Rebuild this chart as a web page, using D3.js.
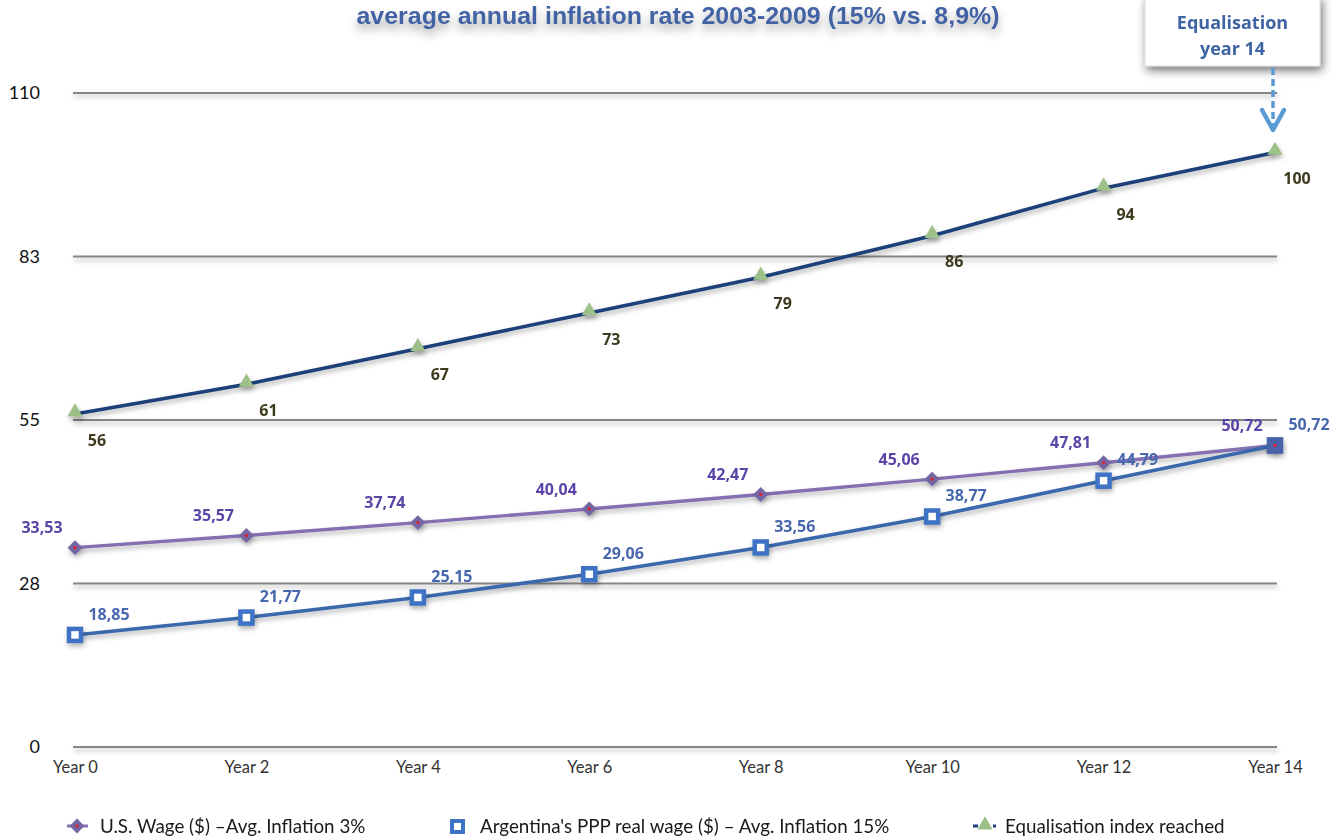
<!DOCTYPE html>
<html><head><meta charset="utf-8">
<script src="https://cdn.jsdelivr.net/npm/d3@7/dist/d3.min.js"></script>
<style>
html,body{margin:0;padding:0;background:#fff;}
svg{display:block;}
</style></head>
<body>
<script>
const years = [0,2,4,6,8,10,12,14];
const xLabels = ["Year 0","Year 2","Year 4","Year 6","Year 8","Year 10","Year 12","Year 14"];
const usWage = [33.53,35.57,37.74,40.04,42.47,45.06,47.81,50.72];
const argWage = [18.85,21.77,25.15,29.06,33.56,38.77,44.79,50.72];
const equalIndex = [56,61,67,73,79,86,94,100];
const yTicks = [0,27.5,55,82.5,110];
const yTickLabels = ["0","28","55","83","110"];
const seriesNames = ["U.S. Wage ($) \u2013Avg. Inflation 3%","Argentina's PPP real wage ($) \u2013 Avg. Inflation 15%","Equalisation index reached"];
const titleText = "average annual inflation rate 2003-2009 (15% vs. 8,9%)";
const calloutLines = ["Equalisation","year 14"];

const W=1339,H=840;
const svg=d3.select("body").append("svg").attr("width",W).attr("height",H);
const defs=svg.append("defs");
const f=defs.append("filter").attr("id","sh").attr("filterUnits","userSpaceOnUse").attr("x",0).attr("y",0).attr("width",W).attr("height",H);
f.append("feDropShadow").attr("dx",1).attr("dy",3).attr("stdDeviation",2.5).attr("flood-color","#000").attr("flood-opacity",0.3);
const fb=defs.append("filter").attr("id","boxsh").attr("x","-30%").attr("y","-30%").attr("width","160%").attr("height","180%");
fb.append("feDropShadow").attr("dx",2).attr("dy",4).attr("stdDeviation",5).attr("flood-color","#000").attr("flood-opacity",0.55);
const ft=defs.append("filter").attr("id","tsh").attr("x","-10%").attr("y","-50%").attr("width","120%").attr("height","300%");
ft.append("feDropShadow").attr("dx",0).attr("dy",6).attr("stdDeviation",5).attr("flood-color","#000").attr("flood-opacity",0.35);

const x=d3.scaleLinear().domain([0,14]).range([75,1275]);
const y=d3.scaleLinear().domain([0,110]).range([747,93]);

// title
svg.append("text").attr("x",678).attr("y",24).attr("text-anchor","middle")
  .attr("font-family","Liberation Sans, Arial, sans-serif").attr("font-weight","bold").attr("font-size",24)
  .attr("textLength",643).attr("lengthAdjust","spacingAndGlyphs")
  .attr("fill","#4262a3").attr("filter","url(#tsh)").text(titleText);

// gridlines
const grid=svg.append("g").attr("filter","url(#sh)");
grid.selectAll("line").data(yTicks).join("line")
  .attr("x1",73).attr("x2",1277).attr("y1",d=>y(d)).attr("y2",d=>y(d))
  .attr("stroke","#858585").attr("stroke-width",2.2);

// y axis
const yAxis=d3.axisLeft(y).tickValues(yTicks).tickFormat((d,i)=>yTickLabels[i]).tickSize(0).tickPadding(0);
const gy=svg.append("g").attr("transform","translate(40,0)").call(yAxis);
gy.select(".domain").remove();
gy.selectAll("text").attr("font-family","Lato, sans-serif").attr("font-size",18).attr("fill","#111").attr("dy","0.32em");

// x axis
const xAxis=d3.axisBottom(x).tickValues(years).tickFormat((d,i)=>xLabels[i]).tickSize(0).tickPadding(0);
const gx=svg.append("g").attr("transform","translate(0,761)").call(xAxis);
gx.select(".domain").remove();
gx.selectAll("text").attr("font-family","Lato, sans-serif").attr("font-size",16.5).attr("fill","#333").attr("dy","0.71em");

const line=d3.line().x((d,i)=>x(years[i])).y(d=>y(d));

// lines
svg.append("path").datum(equalIndex).attr("d",line).attr("fill","none")
  .attr("stroke","#1c3f78").attr("stroke-width",3.6).attr("filter","url(#sh)");
svg.append("path").datum(usWage).attr("d",line).attr("fill","none")
  .attr("stroke","#8470b0").attr("stroke-width",3.4).attr("filter","url(#sh)");
svg.append("path").datum(argWage).attr("d",line).attr("fill","none")
  .attr("stroke","#3a68ad").attr("stroke-width",3.6).attr("filter","url(#sh)");

// markers
const tri=d3.symbol().type(d3.symbolTriangle).size(100);
svg.append("g").attr("filter","url(#sh)").selectAll("path").data(equalIndex).join("path")
  .attr("d",tri).attr("transform",(d,i)=>`translate(${x(years[i])},${y(d)-2})`)
  .attr("fill","#9dbf88");
const sq=d3.symbol().type(d3.symbolSquare).size(110);
const gUs=svg.append("g");
gUs.append("g").attr("filter","url(#sh)").selectAll("path").data(usWage).join("path")
  .attr("d",sq).attr("transform",(d,i)=>`translate(${x(years[i])},${y(d)}) rotate(45)`)
  .attr("fill","#7565a3");
gUs.selectAll("circle").data(usWage).join("circle")
  .attr("cx",(d,i)=>x(years[i])).attr("cy",d=>y(d)).attr("r",1.6).attr("fill","#e0202a");
const gAr=svg.append("g").attr("filter","url(#sh)");
gAr.selectAll("rect").data(argWage).join("rect")
  .attr("x",(d,i)=>x(years[i])-6).attr("y",d=>y(d)-6).attr("width",12).attr("height",12)
  .attr("fill","#fff").attr("stroke","#3d72c4").attr("stroke-width",4.5);
// last point: US diamond sits on the Arg square
svg.append("rect").attr("x",x(14)-8).attr("y",y(argWage[7])-8).attr("width",16).attr("height",16)
  .attr("fill","#4a62a8");
svg.append("circle").attr("cx",x(14)).attr("cy",y(usWage[7])).attr("r",1.6).attr("fill","#e0202a");

// labels
const lf="Open Sans, sans-serif";
const ls=16;
svg.append("g").selectAll("text").data(equalIndex).join("text")
  .attr("x",(d,i)=>x(years[i])+22).attr("y",d=>y(d)+26).attr("dy","0.35em").attr("text-anchor","middle")
  .attr("font-family",lf).attr("font-weight","bold").attr("font-size",ls).attr("fill","#3d3a1e").text(d=>d);
const fmt=d=>d.toFixed(2).replace(".",",");
svg.append("g").selectAll("text").data(usWage).join("text")
  .attr("x",(d,i)=>x(years[i])-33).attr("y",d=>y(d)-20).attr("dy","0.35em").attr("text-anchor","middle")
  .attr("font-family",lf).attr("font-weight","bold").attr("font-size",ls).attr("fill","#5a44a6").text(fmt);
svg.append("g").selectAll("text").data(argWage).join("text")
  .attr("x",(d,i)=>x(years[i])+34).attr("y",d=>y(d)-21).attr("dy","0.35em").attr("text-anchor","middle")
  .attr("font-family",lf).attr("font-weight","bold").attr("font-size",ls).attr("fill","#4768ae").text(fmt);

// callout box
const bx=1145,by=-4,bw=175,bh=70;
svg.append("rect").attr("x",bx).attr("y",by).attr("width",bw).attr("height",bh)
  .attr("fill","#fff").attr("stroke","#d8d8d8").attr("filter","url(#boxsh)");
svg.append("g").selectAll("text").data(calloutLines).join("text")
  .attr("x",bx+bw/2).attr("y",(d,i)=>23+i*26).attr("dy","0.35em").attr("text-anchor","middle")
  .attr("font-family",lf).attr("font-weight","bold").attr("font-size",18).attr("fill","#3f64a3").text(d=>d);
// dashed arrow
const ax=x(14)-2;
svg.append("line").attr("x1",ax).attr("x2",ax).attr("y1",bh+by+2).attr("y2",129)
  .attr("stroke","#5b9bd5").attr("stroke-width",3.5).attr("stroke-dasharray","7,4");
svg.append("path").attr("d",`M${ax-11},${110} L${ax},${130} L${ax+11},${110}`)
  .attr("fill","none").attr("stroke","#5b9bd5").attr("stroke-width",4.5).attr("stroke-linejoin","round").attr("stroke-linecap","round");

// legend
const lg=svg.append("g").attr("font-family","Lato, sans-serif").attr("font-size",18.8).attr("fill","#1a1a1a");
lg.append("line").attr("x1",67).attr("x2",88).attr("y1",826).attr("y2",826).attr("stroke","#8470b0").attr("stroke-width",3);
lg.append("path").attr("d",sq).attr("transform","translate(77,826) rotate(45)").attr("fill","#7565a3");
lg.append("circle").attr("cx",77).attr("cy",826).attr("r",1.6).attr("fill","#e0202a");
lg.append("text").attr("x",100).attr("y",826).attr("dy","0.35em").text(seriesNames[0]);
lg.append("rect").attr("x",452).attr("y",821).attr("width",11).attr("height",11).attr("fill","#fff").attr("stroke","#3d72c4").attr("stroke-width",4);
lg.append("text").attr("x",480).attr("y",826).attr("dy","0.35em").text(seriesNames[1]);
lg.append("line").attr("x1",973).attr("x2",996).attr("y1",826).attr("y2",826).attr("stroke","#1c3f78").attr("stroke-width",3).attr("stroke-dasharray","5,5");
lg.append("path").attr("d",tri).attr("transform","translate(985,825)").attr("fill","#9dbf88");
lg.append("text").attr("x",1005).attr("y",826).attr("dy","0.35em").text(seriesNames[2]);
</script>
</body></html>
